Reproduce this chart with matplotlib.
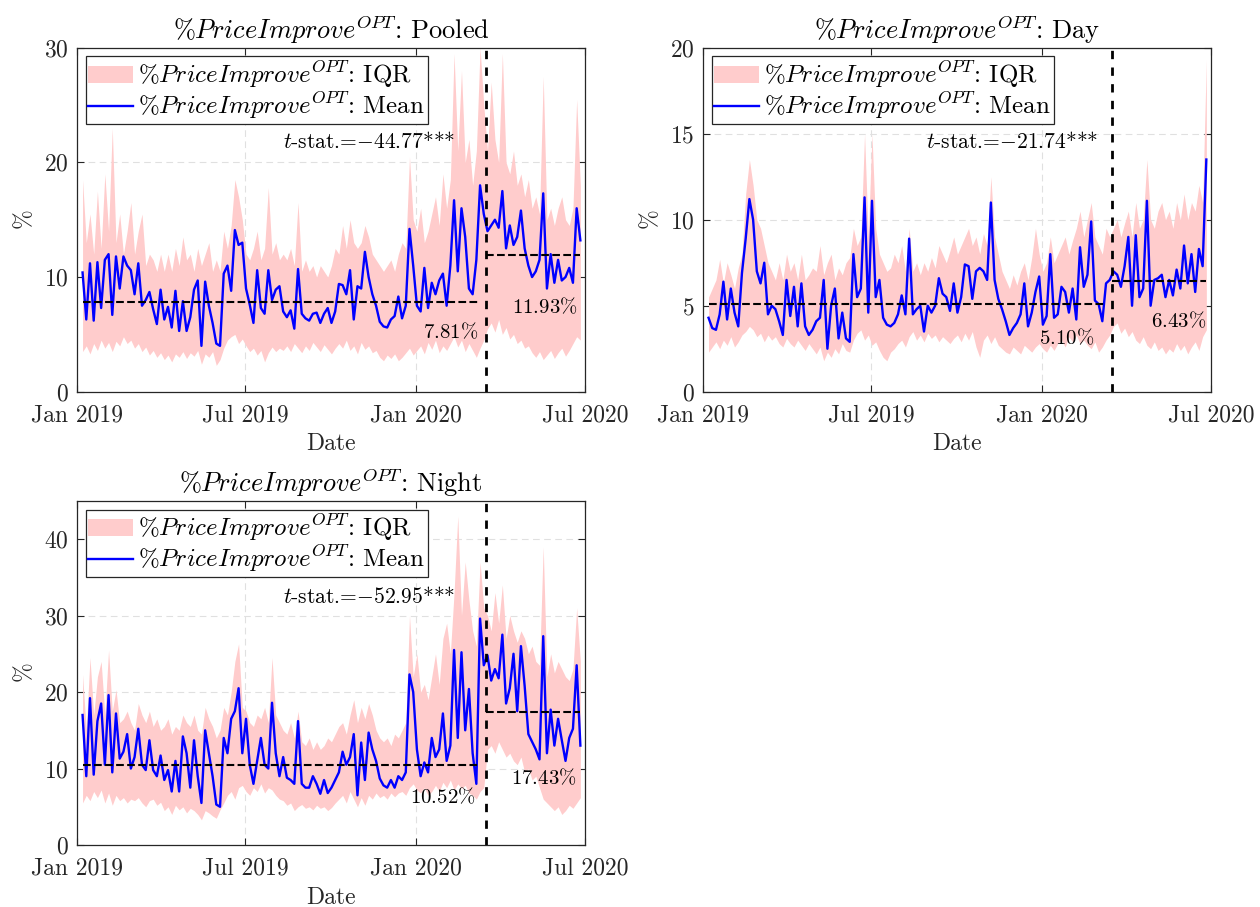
import matplotlib
matplotlib.use('agg')
from matplotlib import pyplot as plt
import matplotlib.dates as mdates
import pandas as pd

plt.rcParams['font.family'] = ['cmr10', 'DejaVu Sans']
plt.rcParams['mathtext.fontset'] = 'cm'
plt.rcParams['axes.formatter.use_mathtext'] = True
plt.rcParams['axes.unicode_minus'] = False

# one value every 4 days, 7 Jan 2019 - 26 Jun 2020
dates = pd.date_range('2019-01-07', periods=135, freq='4D')
break_date = pd.Timestamp('2020-03-16')
pre_end = pd.Timestamp('2020-03-09')

pooled_mean = [10.4, 6.3, 11.2, 6.2, 11.3, 7.3, 11.5, 12.0, 6.7, 11.8,
               9.0, 11.8, 11.0, 10.6, 8.5, 11.2, 7.5, 8.0, 8.7, 7.2,
               5.9, 8.9, 6.3, 7.4, 5.6, 8.8, 5.3, 7.9, 5.3, 6.5,
               8.9, 9.7, 4.0, 9.6, 7.5, 6.0, 4.2, 4.0, 10.3, 11.0,
               8.8, 14.1, 12.8, 13.0, 9.0, 7.6, 6.0, 10.6, 7.3, 6.8,
               10.6, 8.0, 8.9, 9.2, 7.0, 6.5, 7.1, 5.5, 10.7, 6.8,
               6.4, 6.2, 6.8, 6.9, 6.0, 6.8, 7.3, 6.0, 7.0, 9.4,
               9.3, 8.5, 10.6, 6.3, 9.2, 9.0, 12.2, 10.0, 8.5, 7.5,
               6.1, 5.7, 5.6, 6.3, 6.6, 8.3, 6.4, 7.5, 14.2, 11.0,
               7.5, 7.0, 10.8, 7.3, 9.5, 8.5, 9.7, 10.3, 7.5, 11.0,
               16.7, 10.5, 16.0, 13.5, 9.0, 8.5, 11.5, 18.0, 15.5,
               14.0, 14.5, 15.0, 14.3, 17.5, 12.5, 14.5, 12.8, 13.5, 15.8, 12.5,
               11.0, 10.0, 10.5, 11.5, 17.3, 9.0, 12.0, 9.5, 11.5, 9.7, 10.0, 10.8, 9.5, 16.0, 13.2]
pooled_q1 = [3.5, 4.0, 3.3, 4.2, 3.6, 4.5, 3.8, 4.3, 3.5, 4.4, 4.0, 4.8, 4.2, 4.5,
             3.8, 4.2, 3.5, 3.9, 3.2, 3.6, 3.0, 3.4, 2.8,
             3.2, 2.6, 3.3, 3.0, 3.5, 2.9, 3.4, 3.1, 3.6, 2.4, 3.3, 3.0, 3.5, 2.3, 2.8,
             3.8, 4.5, 4.8, 5.0, 4.2, 4.6, 4.0, 3.5,
             3.8, 3.2, 3.6, 2.6, 3.4, 3.9, 3.5, 3.8,
             3.6, 4.0, 3.5, 4.2, 3.8, 3.4, 4.0, 3.6, 4.3, 3.9, 3.5, 4.1, 3.7, 3.3, 3.8,
             4.2, 3.8, 4.5, 3.6, 4.0, 3.3, 4.3, 3.7, 4.0, 3.4, 3.6,
             3.0, 2.7, 3.2, 2.9, 3.3, 2.7, 3.0, 3.4, 3.8, 3.2,
             3.6, 4.0, 3.3, 4.3, 3.7, 4.5, 3.4, 4.0, 3.6, 4.2, 4.8, 3.9, 4.5, 3.5, 4.2, 3.6, 3.0, 3.8, 4.5,
             5.5, 6.0, 5.2, 6.3, 5.0, 5.6, 4.6, 5.0, 4.2, 4.5, 3.8, 4.0, 3.4, 3.0, 3.5, 2.8, 3.2,
             3.6, 2.9, 3.4, 3.8, 3.1, 3.6, 4.2, 4.8, 4.5]
pooled_q3 = [18.5, 13.0, 15.5, 12.0, 17.5, 12.5, 19.0, 14.0, 23.0, 13.0, 15.5, 12.0, 14.0, 16.5,
             12.0, 14.0, 15.5, 11.0, 12.0, 11.5, 10.5, 12.0, 10.5,
             12.0, 10.5, 12.5, 11.0, 13.5, 11.5, 12.0, 10.5, 12.5, 11.0, 12.0, 13.0, 10.5, 11.5, 10.5,
             14.0, 12.5, 14.5, 18.5, 17.0, 15.0, 12.0, 11.5,
             12.5, 14.0, 11.5, 12.5, 17.8, 12.0, 13.0, 11.5,
             12.0, 11.5, 12.5, 11.0, 16.5, 10.5, 11.5, 10.5, 11.0, 10.0, 11.0, 10.5, 10.0, 11.0, 12.5,
             12.0, 14.5, 12.5, 15.0, 13.0, 12.5, 13.0, 14.5, 13.5, 12.0, 11.5,
             11.0, 10.5, 11.0, 11.5, 10.5, 12.0, 13.0, 12.5, 20.5, 15.0,
             14.0, 16.0, 13.0, 14.0, 15.5, 17.0, 14.5, 19.0, 16.0, 18.5, 29.5, 21.0, 28.0, 20.0, 22.0,
             18.0, 21.0, 30.0, 25.0,
             21.0, 27.0, 22.0, 20.0, 29.5, 20.0, 19.0, 21.0, 18.0, 19.0, 17.0, 18.5, 16.0, 17.0, 15.5,
             27.5, 15.0, 16.0, 14.5, 16.0, 17.0, 15.0, 14.5, 16.0, 25.5, 18.0]

day_mean = [4.3, 3.7, 3.6, 4.5, 6.4, 4.2, 6.0, 4.6, 3.8, 6.9,
            8.9, 11.2, 10.0, 7.0, 6.3, 7.5, 4.5, 5.0, 4.8, 4.1,
            3.3, 6.5, 4.4, 6.1, 3.8, 6.3, 3.8, 3.3, 3.6, 4.1,
            4.3, 6.5, 2.5, 5.0, 6.0, 3.1, 4.6, 3.1, 2.9, 8.0,
            5.5, 6.0, 11.3, 4.6, 11.1, 5.5, 6.5, 4.3, 3.9, 3.8,
            4.0, 4.5, 5.6, 4.5, 8.9, 4.5, 4.8, 5.0, 3.5, 5.0,
            4.6, 5.0, 6.6, 5.7, 5.5, 4.7, 6.3, 4.6, 5.5, 7.4,
            7.3, 5.4, 7.0, 7.2, 7.0, 6.5, 11.0, 6.5, 5.4, 4.8,
            4.1, 3.3, 3.7, 4.0, 4.5, 6.3, 3.8, 4.6, 5.8, 6.7,
            3.9, 4.4, 8.0, 4.3, 4.5, 6.1, 5.8, 4.6, 6.0, 4.2,
            8.4, 6.1, 6.8, 9.9, 5.3, 5.1, 4.1, 6.3, 6.5,
            7.0, 6.8, 6.1, 7.3, 9.0, 5.0, 9.1, 5.5, 6.0, 11.1, 5.0,
            6.5, 6.6, 6.8, 5.5, 6.5, 5.6, 7.1, 6.0, 8.5, 6.3, 8.0, 5.8, 8.3, 7.3, 13.5]
day_q1 = [2.3, 2.6, 2.9, 2.5, 3.0, 2.7, 3.2, 2.6, 2.9, 3.3, 3.5, 3.8, 3.6, 3.2,
          3.4, 2.9, 3.3, 3.0, 3.2, 2.8, 2.6, 3.1, 2.8,
          2.6, 3.0, 2.7, 2.4, 2.8, 2.5, 2.2, 2.6, 1.8, 2.3, 2.0, 2.5, 2.2, 2.8, 2.4,
          2.3, 3.0, 3.4, 3.6, 3.0, 3.3, 2.7, 2.9,
          2.4, 2.0, 1.8, 2.3, 2.5, 2.8, 3.0, 2.6,
          3.2, 3.5, 3.0, 3.3, 2.9, 3.4, 3.1, 3.3, 2.9, 3.2, 3.0, 2.8, 3.1, 3.3, 2.9,
          3.4, 3.0, 3.5, 2.6, 2.0, 3.0, 3.3, 2.8, 3.2, 2.7, 2.5,
          2.3, 2.2, 2.6, 2.4, 2.2, 2.7, 2.5, 2.3, 2.6, 2.8,
          2.5, 2.3, 2.7, 2.4, 2.8, 3.0, 2.6, 3.2, 2.9, 3.3, 2.8, 3.0, 2.7, 2.5, 2.9, 2.3, 2.6, 3.0, 3.3,
          3.8, 4.0, 3.4, 3.7, 3.2, 3.5, 3.0, 2.8, 3.2, 2.7, 2.5, 2.9, 2.4, 2.6, 2.2, 2.5, 2.3,
          2.8, 2.4, 2.7, 2.2, 2.6, 2.9, 2.4, 3.2, 3.6]
day_q3 = [5.5, 6.0, 6.5, 7.7, 6.3, 7.5, 6.8, 6.0, 7.2, 8.0, 11.5, 13.5, 12.0, 10.0,
          9.5, 8.5, 7.5, 7.0, 6.5, 7.5, 6.5, 8.0, 7.0,
          7.5, 6.5, 8.0, 6.5, 6.8, 7.2, 7.0, 8.5, 6.8, 7.5, 8.0, 6.5, 7.2, 6.8, 7.5,
          7.8, 9.5, 8.5, 9.0, 15.0, 9.0, 15.0, 9.5,
          8.0, 7.5, 7.0, 7.2, 8.0, 7.5, 8.5, 7.0,
          9.5, 7.0, 7.5, 6.8, 7.5, 7.0, 7.8, 7.2, 8.5, 8.0, 7.5, 8.2, 9.0, 8.0, 8.5,
          9.0, 9.5, 8.5, 9.0, 8.0, 9.2, 8.5, 12.5, 9.0, 8.0, 7.0,
          6.5, 6.0, 6.8, 6.2, 7.0, 7.5, 6.5, 7.8, 9.5, 8.0,
          7.0, 7.5, 9.0, 7.5, 8.0, 8.5, 9.0, 8.0, 8.8, 9.5, 10.5, 9.0, 10.0, 11.0, 9.0, 8.5, 8.0, 9.5, 9.0,
          9.5, 10.0, 9.0, 9.8, 10.5, 9.0, 11.0, 9.5, 10.0, 13.5, 10.0, 9.5, 10.5, 11.0, 10.0, 10.5, 9.5,
          11.0, 10.0, 11.5, 10.0, 11.0, 10.5, 12.0, 11.0, 19.3]

night_mean = [17.0, 9.0, 19.2, 9.2, 16.2, 18.5, 10.5, 19.6, 9.5, 17.2,
              11.3, 12.2, 14.5, 10.0, 11.5, 15.2, 10.5, 9.8, 13.7, 9.8,
              9.0, 11.7, 8.5, 9.8, 7.0, 11.0, 7.0, 14.2, 12.0, 7.5,
              13.7, 9.0, 5.5, 15.0, 12.0, 9.0, 5.3, 5.0, 14.0, 12.0,
              16.5, 17.5, 20.5, 12.0, 16.5, 10.5, 8.0, 11.0, 14.0, 10.5,
              10.0, 18.6, 12.0, 9.0, 11.5, 8.8, 8.5, 8.0, 16.2, 8.0,
              7.5, 7.5, 9.0, 8.0, 6.7, 8.5, 6.8, 7.5, 8.5, 9.5,
              12.2, 10.5, 11.5, 14.5, 6.5, 13.4, 8.5, 14.7, 12.5, 11.0,
              8.7, 7.8, 7.5, 8.5, 7.5, 9.0, 8.5, 9.5, 22.3, 20.0,
              12.5, 9.0, 10.8, 9.5, 14.0, 11.5, 12.5, 17.2, 11.0, 13.0,
              25.5, 14.0, 25.2, 15.0, 20.4, 12.0, 8.0, 29.6, 23.5,
              24.8, 21.5, 23.0, 21.8, 27.5, 18.5, 20.5, 25.0, 17.5, 26.0, 20.8,
              14.5, 13.5, 12.5, 11.2, 27.3, 12.0, 17.7, 13.0, 16.5, 13.7, 11.0, 14.0, 15.2, 23.5, 13.0]
night_q1 = [5.5, 6.5, 5.8, 7.0, 6.2, 7.2, 5.5, 6.8, 5.2, 6.5, 5.8, 6.2, 5.5, 6.0,
            5.8, 6.2, 5.5, 5.0, 5.8, 6.0, 5.2, 5.6, 4.5,
            5.0, 4.0, 5.2, 4.6, 5.0, 4.2, 4.8, 4.5, 4.0, 3.3, 4.5, 4.2, 3.8, 3.5, 4.6,
            5.5, 6.5, 7.0, 6.0, 7.5, 7.8, 7.0, 6.5,
            7.5, 7.0, 8.0, 6.8, 7.5, 7.2, 6.5, 6.0,
            5.8, 5.2, 5.5, 4.5, 5.0, 5.3, 4.8, 5.0, 4.6, 5.2, 4.8, 5.0, 4.5, 4.9, 5.5,
            6.0, 6.5, 5.5, 7.0, 6.0, 5.0, 6.2, 5.2, 6.5, 6.0, 6.8,
            6.2, 6.5, 6.0, 6.8, 6.3, 6.8, 7.0, 6.5, 7.5, 8.0,
            7.2, 6.8, 7.5, 6.5, 7.0, 7.8, 7.0, 8.2, 7.5, 8.5, 7.2, 8.0, 7.4, 7.8, 6.8, 6.5, 6.0, 7.0, 7.5,
            12.5, 13.0, 12.0, 13.5, 12.5, 11.5, 12.0, 11.0, 10.5, 11.5, 9.5, 10.0, 8.5, 9.0, 7.5, 6.0, 5.5,
            5.0, 4.5, 5.0, 4.0, 4.5, 5.2, 4.8, 5.5, 6.2]
night_q3 = [22.3, 15.0, 24.5, 17.0, 22.0, 24.0, 17.0, 25.5, 17.5, 20.3, 16.0, 16.5, 17.5, 16.0,
            15.0, 18.5, 17.0, 16.0, 17.5, 15.5, 16.5, 15.0, 15.5,
            16.5, 14.5, 15.5, 15.0, 17.0, 16.0, 15.5, 17.0, 15.0, 14.5, 18.0, 16.5, 15.5, 14.0, 15.0,
            18.0, 17.0, 20.0, 24.0, 26.3, 18.0, 17.5, 16.0,
            15.5, 17.0, 16.5, 18.0, 16.0, 24.5, 17.0, 16.0,
            15.0, 14.5, 16.0, 14.0, 17.5, 13.5, 13.0, 14.0, 12.5, 13.5, 12.5, 13.0, 14.0, 13.5, 14.5,
            15.5, 16.0, 14.5, 17.0, 19.0, 16.0, 18.0, 16.5, 18.5, 17.0, 15.0,
            14.0, 13.5, 14.0, 13.0, 14.5, 14.0, 15.0, 16.0, 30.0, 22.0,
            25.0, 20.0, 21.0, 19.0, 22.0, 25.0, 21.0, 27.0, 29.0, 25.0, 33.0, 43.0, 30.0, 37.0, 32.0,
            28.0, 26.0, 37.0, 31.0,
            30.0, 28.0, 33.0, 29.0, 34.0, 27.0, 30.0, 28.0, 26.5, 28.0, 27.0, 25.0, 26.0, 24.0, 23.5,
            39.0, 22.0, 25.0, 22.5, 24.0, 23.0, 22.0, 21.5, 23.0, 31.0, 24.0]

# pre/post break averages and test statistic as printed on the chart
pooled_avg = [7.81, 11.93]
day_avg = [5.10, 6.43]
night_avg = [10.52, 17.43]
tstats = ['44.77', '21.74', '52.95']

panels = [
    dict(name='Pooled', mean=pooled_mean, q1=pooled_q1, q3=pooled_q3, avg=pooled_avg, t=tstats[0],
         rect=[0.0611, 0.5681, 0.4032, 0.3793], ylim=30, yticks=[0, 10, 20, 30],
         tpos=(0.745, 0.726), prepos=(0.789, 0.174), postpos=(0.986, 0.246)),
    dict(name='Day', mean=day_mean, q1=day_q1, q3=day_q3, avg=day_avg, t=tstats[1],
         rect=[0.5579, 0.5681, 0.4032, 0.3793], ylim=20, yticks=[0, 5, 10, 15, 20],
         tpos=(0.778, 0.726), prepos=(0.770, 0.156), postpos=(0.990, 0.206)),
    dict(name='Night', mean=night_mean, q1=night_q1, q3=night_q3, avg=night_avg, t=tstats[2],
         rect=[0.0611, 0.0683, 0.4032, 0.3796], ylim=45, yticks=[0, 10, 20, 30, 40],
         tpos=(0.745, 0.721), prepos=(0.785, 0.139), postpos=(0.984, 0.195)),
]

LABEL = r'$\%PriceImprove^{OPT}$'
EDGE = (0.15, 0.15, 0.15)

fig = plt.figure(figsize=(12.6, 9.07), dpi=100)
fig.patch.set_facecolor('white')

for p in panels:
    ax = fig.add_axes(p['rect'])
    iqr = ax.fill_between(dates, p['q1'], p['q3'], color='#FFCCCC', linewidth=0,
                          label=LABEL + ': IQR')
    line, = ax.plot(dates, p['mean'], color='#0000FF', linewidth=1.7, label=LABEL + ': Mean')

    ax.plot([dates[0], pre_end], [p['avg'][0]] * 2, color='black', linestyle='--', linewidth=1.5)
    ax.plot([break_date, dates[-1]], [p['avg'][1]] * 2, color='black', linestyle='--', linewidth=1.5)
    ax.axvline(break_date, color='black', linestyle=(0, (3, 3)), linewidth=2)

    ax.set_xlim(pd.Timestamp('2019-01-01'), pd.Timestamp('2020-07-01'))
    ax.set_ylim(0, p['ylim'])
    ax.set_yticks(p['yticks'])
    ax.xaxis.set_major_locator(mdates.MonthLocator(bymonth=[1, 7]))
    ax.xaxis.set_major_formatter(mdates.DateFormatter('%b %Y'))

    ax.grid(True, linestyle=(0, (6, 4)), color='0.88', linewidth=0.8)
    ax.set_axisbelow(True)
    ax.tick_params(direction='in', top=True, right=True, length=5, width=0.8,
                   color=EDGE, labelsize=17, labelcolor='0.15')
    ax.tick_params(axis='x', pad=9)
    ax.tick_params(axis='y', pad=6)
    for s in ax.spines.values():
        s.set_color(EDGE)
        s.set_linewidth(0.9)

    ax.set_title(LABEL + ': ' + p['name'], fontsize=19, pad=6)
    ax.set_xlabel('Date', fontsize=17, color='0.15', labelpad=5)
    ax.set_ylabel(r'$\%$', fontsize=17, color='0.15', labelpad=6)

    ax.text(*p['tpos'], r'$t$-stat.=$-$' + p['t'] + '***', transform=ax.transAxes,
            ha='right', va='center', fontsize=15.5)
    ax.text(*p['prepos'], r'$%.2f\%%$' % p['avg'][0], transform=ax.transAxes,
            ha='right', va='center', fontsize=15)
    ax.text(*p['postpos'], r'$%.2f\%%$' % p['avg'][1], transform=ax.transAxes,
            ha='right', va='center', fontsize=15)

    leg = ax.legend(handles=[iqr, line], loc='upper left', fontsize=18, frameon=True,
                    fancybox=False, framealpha=1, edgecolor=EDGE, borderpad=0.1,
                    labelspacing=0.0, handlelength=1.8, handletextpad=0.2, borderaxespad=0.35)
    leg.get_frame().set_linewidth(0.9)

fig.savefig('out.png', dpi=100, facecolor='white')
plt.close(fig)
